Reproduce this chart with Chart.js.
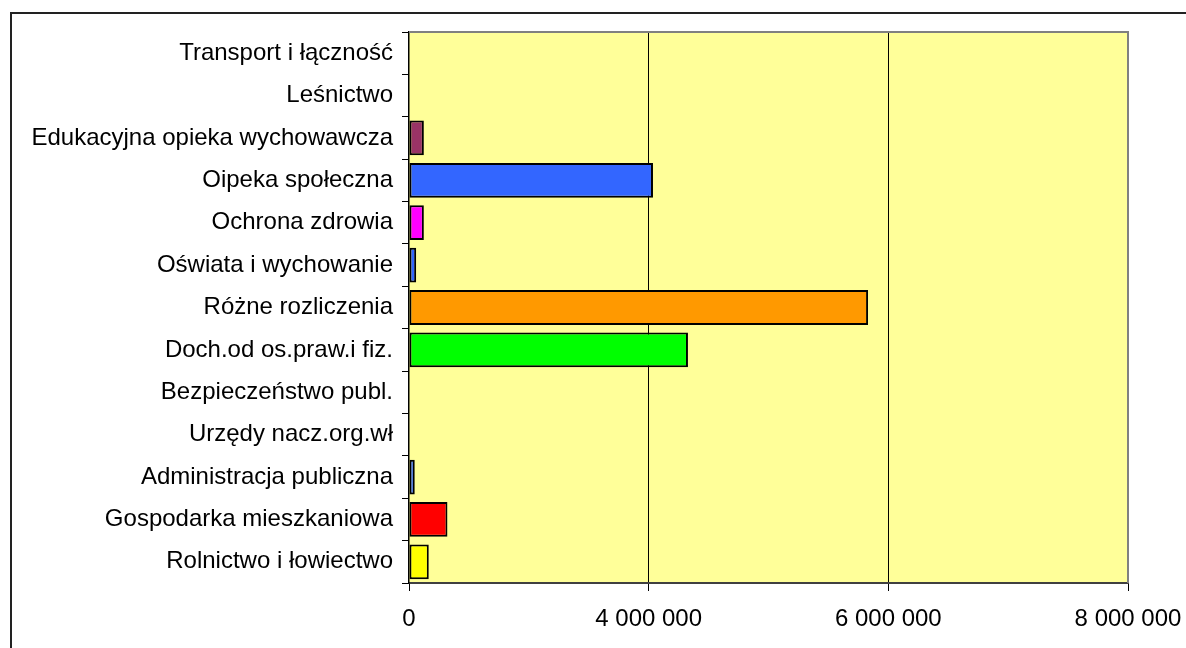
<!DOCTYPE html>
<html>
<head>
<meta charset="utf-8">
<script src="https://cdn.jsdelivr.net/npm/chart.js@4.4.1/dist/chart.umd.min.js"></script>
<style>
    html, body { margin: 0; padding: 0; background: #fff; overflow: hidden; }
    #wrap { position: relative; width: 1186px; height: 648px; }
    #frame { position: absolute; left: 10px; top: 12px; width: 1300px; height: 800px;
             border-left: 2px solid #222; border-top: 2px solid #222; }
    #chart { position: absolute; left: 0; top: 0; }
</style>
</head>
<body>
<div id="wrap">
    <div id="frame"></div>
    <canvas id="chart" width="1186" height="648"></canvas>
</div>
<script>
// categories, top to bottom
const categories = [
    'Transport i łączność',
    'Leśnictwo',
    'Edukacyjna opieka wychowawcza',
    'Oipeka społeczna',
    'Ochrona zdrowia',
    'Oświata i wychowanie',
    'Różne rozliczenia',
    'Doch.od os.praw.i fiz.',
    'Bezpieczeństwo publ.',
    'Urzędy nacz.org.wł',
    'Administracja publiczna',
    'Gospodarka mieszkaniowa',
    'Rolnictwo i łowiectwo'
];

// values (axis units, gridlines every 2 000 000)
const values = [0, 0, 124000, 2036000, 124000, 60000, 3831000, 2328000, 0, 0, 48000, 321000, 165000];

const barColors = ['#3366FF', '#3366FF', '#993366', '#3366FF', '#FF00FF', '#3366FF', '#FF9900',
                   '#00FF00', '#3366FF', '#3366FF', '#3366FF', '#FF0000', '#FFFF00'];

// tick labels as printed under the axis
const xTickLabels = ['0', '4 000 000', '6 000 000', '8 000 000'];

const plotArea = {
    id: 'plotArea',
    beforeDraw(chart) {
        const { ctx, chartArea: a } = chart;
        ctx.save();
        ctx.fillStyle = '#FFFF99';
        ctx.fillRect(a.left, a.top, a.right - a.left, a.bottom - a.top);
        ctx.restore();
    },
    afterDatasetsDraw(chart) {
        const { ctx, chartArea: a } = chart;
        ctx.save();
        ctx.strokeStyle = '#808080';
        ctx.lineWidth = 2;
        ctx.beginPath();
        ctx.moveTo(a.left, a.top);
        ctx.lineTo(a.right, a.top);
        ctx.lineTo(a.right, a.bottom);
        ctx.stroke();
        ctx.restore();
    }
};

const ctx = document.getElementById('chart').getContext('2d');
new Chart(ctx, {
    type: 'bar',
    data: {
        labels: categories,
        datasets: [{
            data: values,
            backgroundColor: barColors,
            borderColor: '#000',
            borderWidth: 2,
            borderSkipped: false,
            barPercentage: 0.82,
            categoryPercentage: 1
        }]
    },
    options: {
        indexAxis: 'y',
        responsive: false,
        animation: false,
        devicePixelRatio: 1,
        layout: { padding: { top: 32, right: 0, left: 0, bottom: 0 } },
        plugins: { legend: { display: false }, tooltip: { enabled: false } },
        scales: {
            x: {
                min: 0,
                max: 6000000,
                ticks: {
                    stepSize: 2000000,
                    color: '#000',
                    font: { family: 'Liberation Sans', size: 24 },
                    padding: 14,
                    maxRotation: 0,
                    callback: (v, i) => xTickLabels[i]
                },
                grid: {
                    color: c => c.index === 0 ? 'rgba(0,0,0,0)' : (c.index === 3 ? '#808080' : '#000'),
                    tickColor: '#000',
                    tickLength: 8,
                    lineWidth: 1
                },
                border: { color: '#404040', width: 2 },
                afterFit: s => { s.height = 65; s.paddingRight = 58; s.paddingLeft = 0; }
            },
            y: {
                ticks: {
                    color: '#000',
                    font: { family: 'Liberation Sans', size: 24 },
                    padding: 9
                },
                grid: {
                    drawOnChartArea: false,
                    color: '#000',
                    tickLength: 7
                },
                border: { color: '#000', width: 1.5 },
                afterFit: s => { s.width = 409; s.paddingTop = 0; s.paddingBottom = 0; }
            }
        }
    },
    plugins: [plotArea]
});
</script>
</body>
</html>
